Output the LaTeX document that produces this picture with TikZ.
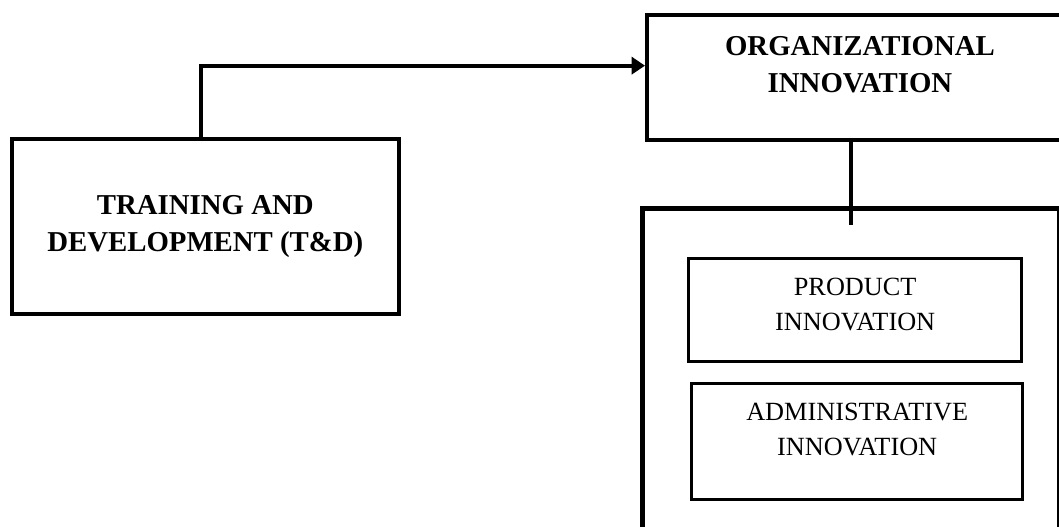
\documentclass[tikz,border=0pt]{standalone}
\usepackage{fontspec}
\setmainfont{Liberation Serif}
\usetikzlibrary{arrows.meta}

\begin{document}
\begin{tikzpicture}[x=0.75pt,y=-0.75pt,
  box/.style={draw,line width=3pt,anchor=north west,inner sep=0pt},
  subbox/.style={draw,line width=2.5pt,anchor=north west,inner sep=0pt},
  boldtext/.style={align=center,font=\fontsize{21.6}{27.75}\selectfont\bfseries},
  plaintext/.style={align=center,font=\fontsize{19.7}{26.25}\selectfont},
  link/.style={line width=3pt},
  >={Triangle[length=10pt,width=12.75pt]}]
\clip (0,0) rectangle (1059,527);
\node[box,minimum width=290pt,minimum height=131pt] (tnd) at (10,137) {};
\node[box,minimum width=319.5pt,minimum height=94pt] (org) at (645,13) {};
\node[box,line width=3.75pt,minimum width=312.75pt,minimum height=266pt] (group) at (640,206) {};
\node[subbox,minimum width=249.75pt,minimum height=77.25pt] (product) at (687,257) {};
\node[subbox,minimum width=248.25pt,minimum height=87pt] (admin) at (690,382) {};
\node[boldtext] (tndlabel) at (tnd.center) {TRAINING AND\\DEVELOPMENT (T\&D)};
\node[boldtext] (orglabel) at ([yshift=9.4pt]org.center) {ORGANIZATIONAL\\INNOVATION};
\node[plaintext] (productlabel) at ([yshift=4.5pt]product.center) {PRODUCT\\INNOVATION};
\node[plaintext] (adminlabel) at ([yshift=9.4pt]admin.center) {ADMINISTRATIVE\\INNOVATION};
\draw[link,->] ([xshift=-3pt]tnd.north) |- ([yshift=9pt]org.west);
\draw[link] (org.south -| group.north) -- ([yshift=-14.5pt]group.north);
\end{tikzpicture}
\end{document}
